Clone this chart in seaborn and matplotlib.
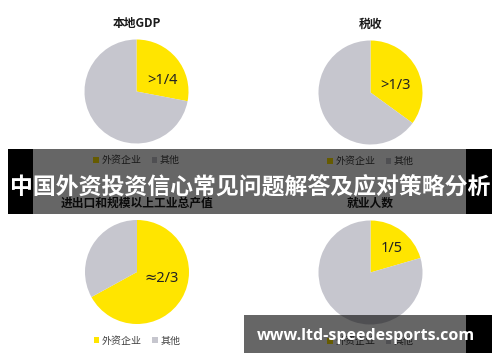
import matplotlib
matplotlib.use("Agg")
import matplotlib.pyplot as plt
import seaborn as sns
from matplotlib.patches import Rectangle

sns.set_theme(style="white")
plt.rcParams['font.family'] = ['Noto Sans CJK SC', 'DejaVu Sans']

# ---- data ----
titles = ["本地GDP", "税收", "进出口和规模以上工业总产值", "就业人数"]
categories = ["外资企业", "其他"]
foreign_share = [0.28, 0.35, 0.67, 0.205]
slice_labels = [">1/4", ">1/3", "≈2/3", "1/5"]
banner_text = "中国外资投资信心常见问题解答及应对策略分析"
watermark_text = "www.ltd-speedesports.com"

colors = ["#FFE500", "#C6C6CE"]

W, H = 500, 362
fig = plt.figure(figsize=(W / 100, H / 100), dpi=100)

def fx(x):
    return x / W

def fy(y):
    return 1 - y / H

# base layer for titles
base = fig.add_axes([0, 0, 1, 1])
base.set_xlim(0, W)
base.set_ylim(H, 0)
base.axis("off")

centers = [(136.5, 91.5), (370.5, 92.5), (137, 272), (370.5, 272.5)]
title_y = [24, 24, 203, 203]
label_pos = [(0.49, 0.22), (0.49, 0.14), (0.48, -0.12), (0.41, 0.47)]
R = 52

for i, (cx, cy) in enumerate(centers):
    ax = fig.add_axes([fx(cx - R), fy(cy + R), 2 * R / W, 2 * R / H])
    vals = [foreign_share[i], 1 - foreign_share[i]]
    wedges, _ = ax.pie(vals, colors=colors, startangle=90, counterclock=False,
                       radius=1, wedgeprops=dict(linewidth=0))
    ax.set_xlim(-1, 1)
    ax.set_ylim(-1, 1)
    ax.set_aspect("auto")
    ax.axis("off")
    ax.text(label_pos[i][0], label_pos[i][1], slice_labels[i], ha="center", va="center",
            fontsize=10.5, color="#222222", family=['Noto Sans', 'DejaVu Sans'])
    leg = ax.legend(wedges, categories, loc="center", bbox_to_anchor=(0.5, -0.16),
                    ncol=2, frameon=False, fontsize=7.2, handlelength=0.55,
                    handleheight=0.55, handletextpad=0.3, columnspacing=1.0,
                    borderaxespad=0, labelcolor="#404040")
    base.text(cx, title_y[i], titles[i], ha="center", va="center", fontsize=8.5,
              fontweight="bold", color="#1a1a1a")

# overlay layer
ov = fig.add_axes([0, 0, 1, 1])
ov.set_xlim(0, W)
ov.set_ylim(H, 0)
ov.axis("off")
ov.patch.set_alpha(0)

# banner
ov.add_patch(Rectangle((8, 149), 25, 65, facecolor="black", edgecolor="none"))
ov.add_patch(Rectangle((466, 149), 26, 65, facecolor="black", edgecolor="none"))
ov.add_patch(Rectangle((33, 149), 433, 65, facecolor="black", alpha=0.6, edgecolor="none"))
ov.text(250, 188, banner_text, ha="center", va="center", fontsize=16.5,
        fontweight="bold", color="white")

# watermark
ov.add_patch(Rectangle((244, 315), 222, 38, facecolor="black", alpha=0.6, edgecolor="none"))
ov.add_patch(Rectangle((466, 315), 26, 38, facecolor="black", edgecolor="none"))
ov.text(366, 336, watermark_text, ha="center", va="center", fontsize=11.5,
        fontweight="bold", color="white", family=['Open Sans', 'DejaVu Sans'])

fig.savefig("out.png", dpi=100)
